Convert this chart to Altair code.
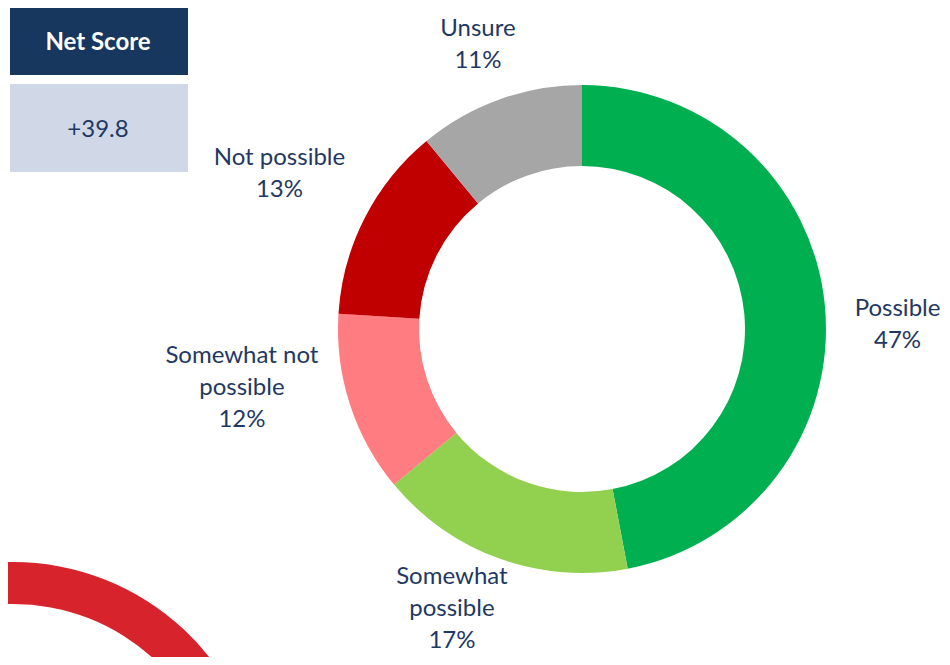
import altair as alt
import pandas as pd

# ---- data ----
categories = ["Possible", "Somewhat possible", "Somewhat not possible", "Not possible", "Unsure"]
label_names = ["Possible", "Somewhat\npossible", "Somewhat not\npossible", "Not possible", "Unsure"]
values = [47, 17, 12, 13, 11]
colors = ["#00B050", "#92D050", "#FF7C80", "#C00000", "#A6A6A6"]
net_score_title = "Net Score"
net_score_value = "+39.8"

# label nudges (dx, dy) relative to the polar label position (first line anchor)
label_nudges = [(-8, 11), (-20, -58), (-31, -73), (-13, -23), (6, 6)]

df = pd.DataFrame({
    "category": categories,
    "value": values,
    "order": list(range(len(categories))),
    "label": [f"{n}\n{v}%" for n, v in zip(label_names, values)],
})

FONT = "Lato"
TXT = "#1F3864"
CX, CY = 574, 321

donut = alt.Chart(df).mark_arc(innerRadius=163, outerRadius=244).encode(
    theta=alt.Theta("value:Q", stack=True),
    color=alt.Color("category:N", scale=alt.Scale(domain=categories, range=colors), legend=None),
    order=alt.Order("order:Q"),
    x=alt.value(CX),
    y=alt.value(CY),
)

label_base = alt.Chart(df).transform_window(
    cum="sum(value)", sort=[alt.SortField("order")], frame=[None, 0]
).transform_calculate(mid="datum.cum - datum.value / 2")

label_layers = []
for cat, (ndx, ndy) in zip(categories, label_nudges):
    label_layers.append(
        label_base.transform_filter(alt.datum.category == cat).mark_text(
            radius=325, dx=ndx, dy=ndy, font=FONT, fontSize=24, color=TXT,
            lineBreak="\n", lineHeight=32, align="center", baseline="middle",
        ).encode(
            theta=alt.Theta("mid:Q", scale=alt.Scale(domain=[0, 100])),
            text="label:N",
            x=alt.value(CX),
            y=alt.value(CY),
        )
    )

one = pd.DataFrame({"t": [net_score_title], "v": [net_score_value]})

decor = alt.Chart(one).mark_arc(
    theta=4.75, theta2=7.8, outerRadius=250, innerRadius=208, color="#D7232B"
).encode(x=alt.value(5), y=alt.value(804))

box1 = alt.Chart(one).mark_rect(color="#17375E").encode(
    x=alt.value(2), x2=alt.value(180), y=alt.value(0), y2=alt.value(67)
)
box2 = alt.Chart(one).mark_rect(color="#D0D8E8").encode(
    x=alt.value(2), x2=alt.value(180), y=alt.value(76), y2=alt.value(164)
)
t1 = alt.Chart(one).mark_text(
    font=FONT, fontSize=24, fontWeight="bold", color="white", align="center", baseline="middle"
).encode(text="t:N", x=alt.value(90), y=alt.value(35))
t2 = alt.Chart(one).mark_text(
    font=FONT, fontSize=24, color=TXT, align="center", baseline="middle"
).encode(text="v:N", x=alt.value(90), y=alt.value(122))

chart = alt.layer(decor, donut, *label_layers, box1, box2, t1, t2).resolve_scale(
    theta="independent"
).properties(
    width=934, height=649, padding=0, autosize=alt.AutoSizeParams(type="none")
).configure_view(stroke=None)

chart.save("out.html", embed_options={"renderer": "svg", "actions": False})
